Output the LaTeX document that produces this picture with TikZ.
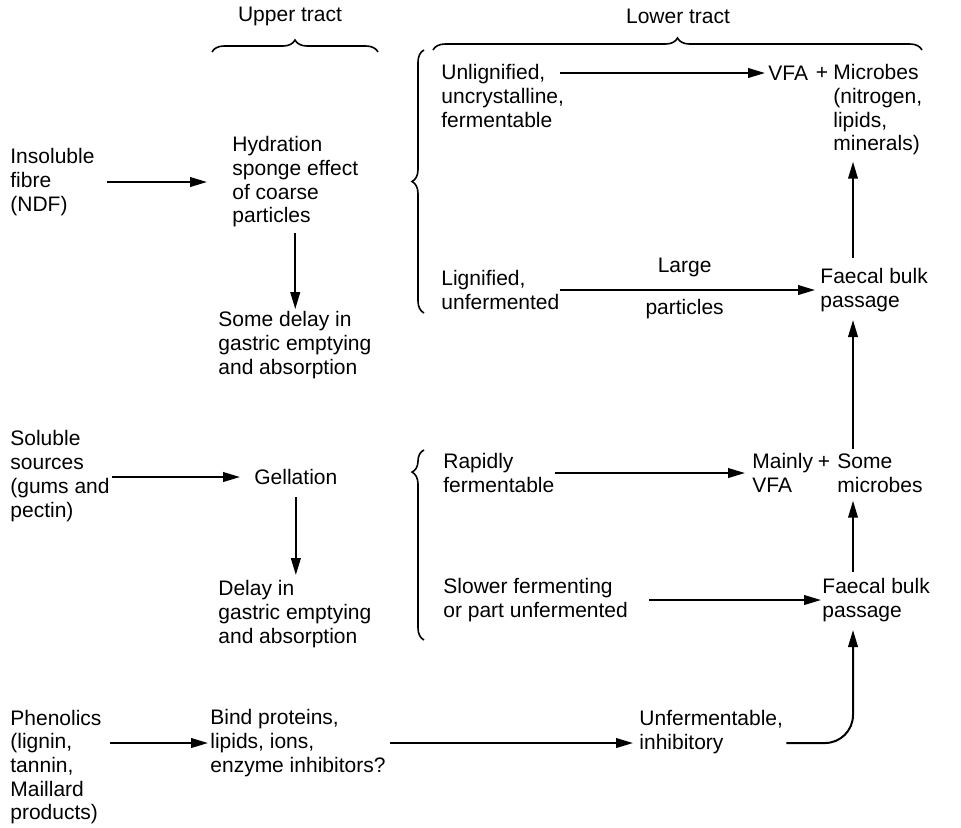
\documentclass[tikz,border=0pt]{standalone}
\usepackage{fontspec}
\setmainfont{Liberation Sans}
\usetikzlibrary{arrows.meta, decorations.pathreplacing}

\begin{document}
\begin{tikzpicture}[x=0.5pt,y=-0.5pt,
  every node/.style={inner sep=0pt,anchor=west,align=left,font=\fontsize{10.5}{11.85}\selectfont},
  arr/.style={-{Triangle[length=8.5pt,width=4.8pt]},line width=1pt},
  brc/.style={decorate,decoration={brace,amplitude=6pt},line width=0.8pt}]
  \useasboundingbox (0,0) rectangle (961,827);
  \path (290,16) node[anchor=center] (upper) {Upper tract}
  (678,16) node[anchor=center] (lower) {Lower tract}
  (10,182) node (ins) {Insoluble\\fibre\\(NDF)}
  (232,182) node (hyd) {Hydration\\sponge effect\\of coarse\\particles}
  (218,345) node (sdel) {Some delay in\\gastric emptying\\and absorption}
  (441,96) node (unl) {Unlignified,\\uncrystalline,\\fermentable}
  (768,73) node (vfa) {VFA}
  (822,73) node[anchor=center] (plusa) {+}
  (833,110) node (mic) {Microbes\\(nitrogen,\\lipids,\\minerals)}
  (441,290) node (lig) {Lignified,\\unfermented}
  (820,290) node (fbpa) {Faecal bulk\\passage}
  (10,476) node (sol) {Soluble\\sources\\(gums and\\pectin)}
  (254,477) node (gel) {Gellation}
  (218,614) node (del) {Delay in\\gastric emptying\\and absorption}
  (443,473) node (rap) {Rapidly\\fermentable}
  (752,473) node (mvfa) {Mainly\\VFA}
  (824,462) node[anchor=center] (plusb) {+}
  (837,473) node (sm) {Some\\microbes}
  (443,600) node (slo) {Slower fermenting\\or part unfermented}
  (822,600) node (fbpb) {Faecal bulk\\passage}
  (10,767) node (phe) {Phenolics\\(lignin,\\tannin,\\Maillard\\products)}
  (210,743) node (bind) {Bind proteins,\\lipids, ions,\\enzyme inhibitors?}
  (639,732) node (unf) {Unfermentable,\\inhibitory};
  \coordinate (col) at (853,0);
  \draw[brc] (212,52) -- (378,52);
  \draw[brc] (433,50) -- (922,50);
  \draw[brc] (424,313) -- (424,50);
  \draw[brc,decoration={aspect=0.884}] (424,640) -- (424,450);
  \draw[arr,shorten <=6pt,shorten >=12.5pt] (ins.east) -- (hyd.west);
  \draw[arr,shorten <=2.5pt,shorten >=1pt] (hyd.south) -- (hyd.south |- sdel.north);
  \draw[arr,shorten <=-2pt,shorten >=1.5pt] (unl.east |- vfa.west) -- (vfa.west);
  \draw[arr,shorten <=5pt,shorten >=3pt] (fbpa.north -| col) -- (mic.south -| col);
  \draw[arr,shorten >=2.5pt] (lig.east) -- (lig.east -| fbpa.west)
    node[pos=0.48,above=6pt] {Large} node[pos=0.48,below=4pt] {particles};
  \draw[arr,shorten <=2pt,shorten >=4pt] (sm.north -| col) -- (fbpa.south -| col);
  \draw[arr,shorten <=1pt,shorten >=7pt] (sol.east |- gel.west) -- (gel.west);
  \draw[arr,shorten <=6pt,shorten >=2.5pt] (gel.south) -- (gel.south |- del.north);
  \draw[arr,shorten >=3.5pt] (rap.east) -- (rap.east -| mvfa.west);
  \draw[arr,shorten <=3pt,shorten >=4pt] (fbpb.north -| col) -- (sm.south -| col);
  \draw[arr,shorten <=10.5pt,shorten >=0.5pt] (slo.east) -- (slo.east -| fbpb.west);
  \draw[arr,shorten <=4pt,shorten >=1pt] (phe.east |- bind.west) -- (bind.west);
  \draw[arr,shorten <=2pt,shorten >=3pt] (bind.east) -- (bind.east -| unf.west);
  \draw[arr,rounded corners=14pt,shorten <=1.5pt,shorten >=4pt] (unf.east |- bind.east) -- (bind.east -| col) -- (fbpb.south -| col);
\end{tikzpicture}
\end{document}
